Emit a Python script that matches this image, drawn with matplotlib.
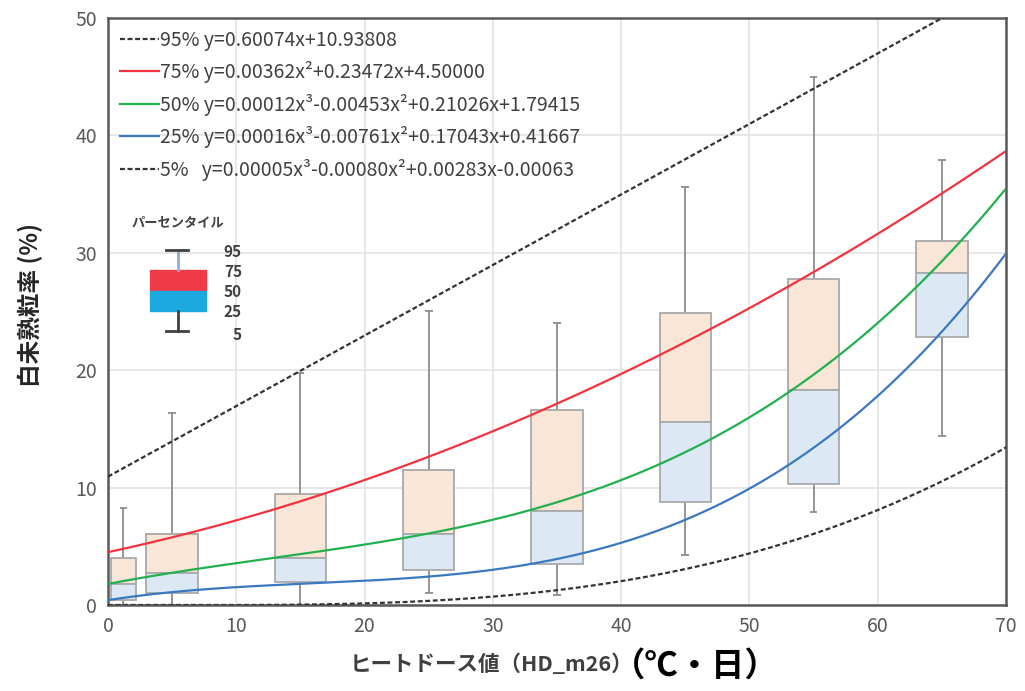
import matplotlib
matplotlib.use("Agg")
import matplotlib.pyplot as plt
from matplotlib.patches import Rectangle
import numpy as np

plt.rcParams['font.family'] = ['Noto Sans CJK JP', 'DejaVu Sans']

# box-plot percentiles per heat-dose class
positions = [1.2, 5, 15, 25, 35, 45, 55, 65]
widths = [2.0, 4, 4, 4, 4, 4, 4, 4]
p95 = [8.3, 16.35, 19.8, 25.0, 24.0, 35.6, 45.0, 37.9]
p75 = [4.0, 6.05, 9.45, 11.5, 16.6, 24.9, 27.8, 31.0]
p50 = [1.8, 2.7, 4.0, 6.05, 8.0, 15.6, 18.3, 28.3]
p25 = [0.4, 1.0, 2.0, 3.0, 3.5, 8.8, 10.3, 22.8]
p05 = [0.0, 0.0, 0.0, 1.0, 0.85, 4.25, 7.9, 14.4]

# regression coefficients shown in the legend (highest power first)
fit_labels = [
    "95% y=0.60074x+10.93808",
    "75% y=0.00362x²+0.23472x+4.50000",
    "50% y=0.00012x³-0.00453x²+0.21026x+1.79415",
    "25% y=0.00016x³-0.00761x²+0.17043x+0.41667",
    "5%   y=0.00005x³-0.00080x²+0.00283x-0.00063",
]
fit_coefs = [
    [0.60074, 10.93808],
    [0.00362, 0.23472, 4.50000],
    [0.00012, -0.00453, 0.21026, 1.79415],
    [0.00016, -0.00761, 0.17043, 0.41667],
    [0.00005, -0.00080, 0.00283, -0.00063],
]
fit_colors = ["#333333", "#F2333F", "#22B04F", "#3B78C2", "#333333"]
fit_styles = [(0, (2.2, 1.2)), "-", "-", "-", (0, (2.2, 1.2))]

legend_ticks = ["95", "75", "50", "25", "5"]

W, H = 1025, 691
fig = plt.figure(figsize=(W / 100, H / 100), dpi=100)
ax = fig.add_axes([108 / W, 1 - 605 / H, (1006 - 108) / W, (605 - 18) / H])

PEACH = "#F9E6D7"
LBLUE = "#DCE9F5"
EDGE = "#A9A9A9"
WHISK = "#8C8C8C"

# whiskers + caps
p = np.array(positions)
ax.vlines(p, p25, p05, color=WHISK, lw=1.3, zorder=2)
ax.vlines(p, p75, p95, color=WHISK, lw=1.3, zorder=2)
ax.hlines(p95, p - 0.3, p + 0.3, color=WHISK, lw=1.3, zorder=2)
ax.hlines(p05, p - 0.3, p + 0.3, color=WHISK, lw=1.3, zorder=2)

# boxes split at median
up = np.array(p75) - np.array(p50)
lo = np.array(p50) - np.array(p25)
ax.bar(p, up, bottom=p50, width=widths, color=PEACH, edgecolor=EDGE, lw=1.3, zorder=3)
ax.bar(p, lo, bottom=p25, width=widths, color=LBLUE, edgecolor=EDGE, lw=1.3, zorder=3)

# fitted percentile curves
xs = np.linspace(0, 70, 300)
for lab, c, col, ls in zip(fit_labels, fit_coefs, fit_colors, fit_styles):
    ax.plot(xs, np.polyval(c, xs), color=col, ls=ls, lw=1.6, label=lab, zorder=4)

ax.set_xlim(0, 70)
ax.set_ylim(0, 50)
ax.set_xticks(range(0, 71, 10))
ax.set_yticks(range(0, 51, 10))
ax.grid(True, color="#E3E3E3", lw=1.2)
ax.set_axisbelow(True)
ax.tick_params(length=0, labelsize=14, colors="#595959", pad=8)
for s in ax.spines.values():
    s.set_color("#595959")
    s.set_linewidth(1.8)

leg = ax.legend(loc="upper left", bbox_to_anchor=(0.0, 1.0), frameon=False,
                fontsize=14, handlelength=2.0, handletextpad=0.1,
                labelspacing=0.54, borderaxespad=0.2)
for t in leg.get_texts():
    t.set_color("#404040")

# percentile key (drawn in pixel space)
kx = fig.add_axes([125 / W, 1 - 345 / H, 125 / W, 135 / H])
kx.set_xlim(125, 250)
kx.set_ylim(345, 210)
kx.axis("off")
kx.text(178, 222, "パーセンタイル", ha="center", va="center", fontsize=9.5,
        fontweight="bold", color="#404040")
kx.plot([178, 178], [250, 270], color="#8FAADC", lw=2)
kx.plot([178, 178], [311, 331], color="#404040", lw=2)
kx.plot([166, 188], [250, 250], color="#404040", lw=2)
kx.plot([166, 188], [331, 331], color="#404040", lw=2)
kx.add_patch(Rectangle((150, 270), 56, 21, color="#F03A47"))
kx.add_patch(Rectangle((150, 291), 56, 20, color="#1CA9E0"))
for lab, yy in zip(legend_ticks, [252, 272, 292, 312, 335]):
    kx.text(242, yy, lab, ha="right", va="center", fontsize=11,
            fontweight="bold", color="#404040")

fig.text(30 / W, 1 - 305 / H, "白未熟粒率 (%)", rotation=90, ha="center", va="center",
         fontsize=17, fontweight="bold", color="#262626")
fig.text(350 / W, 1 - 664 / H, "ヒートドース値（HD_m26）", ha="left", va="center",
         fontsize=15.5, fontweight="bold", color="#404040")
fig.text(612 / W, 1 - 666 / H, "（℃・日）", ha="left", va="center",
         fontsize=24, fontweight="bold", color="#000000")

fig.savefig("out.png", dpi=100)
